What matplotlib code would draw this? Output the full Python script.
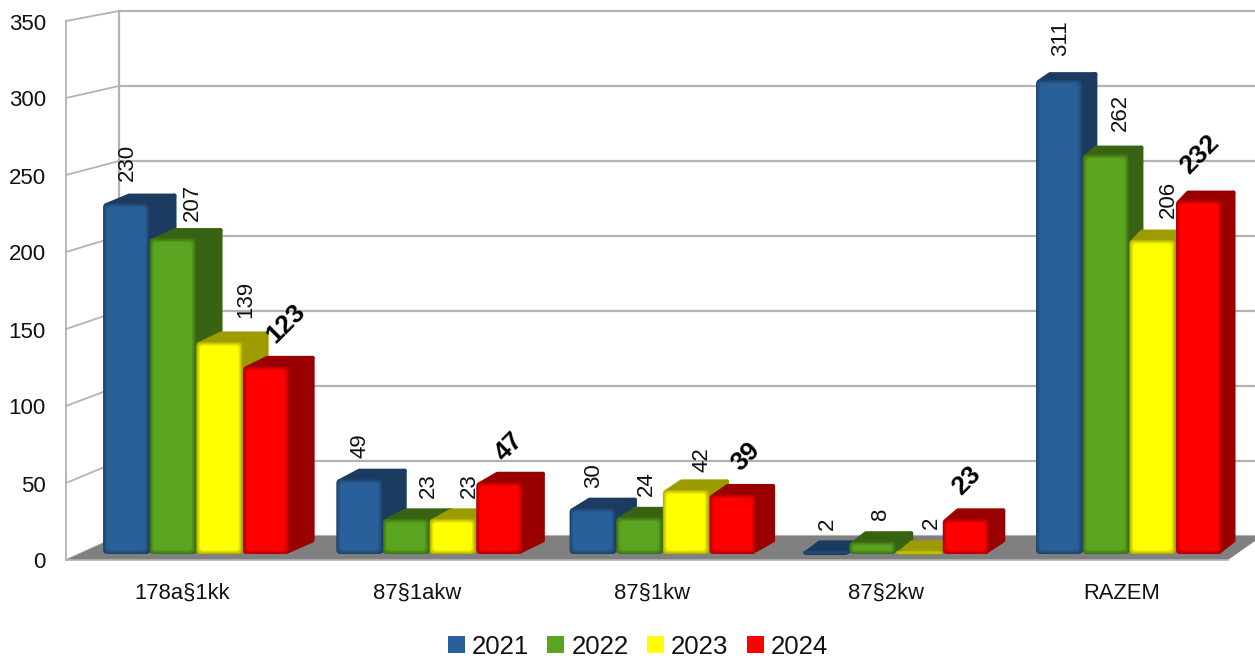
#! /usr/bin/python
# -*- coding: utf-8 -*-
import matplotlib
matplotlib.use("Agg")
import matplotlib.pyplot as plt
from matplotlib.colors import to_rgb
from matplotlib.patches import FancyBboxPatch, Patch, Polygon

plt.rcParams["font.family"] = ["Liberation Sans", "DejaVu Sans"]

categories = ["178a§1kk", "87§1akw", "87§1kw", "87§2kw", "RAZEM"]
years = ["2021", "2022", "2023", "2024"]
v2021 = [230, 49, 30, 2, 311]
v2022 = [207, 23, 24, 8, 262]
v2023 = [139, 23, 42, 2, 206]
v2024 = [123, 47, 39, 23, 232]
series = [v2021, v2022, v2023, v2024]
y_ticks = [0, 50, 100, 150, 200, 250, 300, 350]

front_colors = ["#2a6099", "#5aa51f", "#ffff00", "#ff0000"]
side_colors = ["#1b3b60", "#376312", "#9c9c00", "#990000"]
GRID = "#b3b3b3"

# label offsets from the bar top centre, in pixels (dx, dy), by year then category
label_off = [
    [(1, 38), (1, 31), (1, 30), (2, 25), (2, 39)],
    [(20, 33), (22, 31), (7, 31), (8, 25), (15, 40)],
    [(26, 40), (17, 31), (16, 28), (12, 26), (16, 38)],
    [(20, 43), (10, 36), (13, 38), (1, 38), (1, 46)],
]

W, H = 1255, 659
X0, X_STEP = 196.0, 233.25   # pixel of category 0, pixels per category
Y0, Y_STEP = 554.0, 1.525    # pixel of value 0, pixels per value (bar plane)


def dx_(px):
    return (px - X0) / X_STEP


def dy_(py):
    return (Y0 - py) / Y_STEP


def depth(px, py, top=False):
    # perspective shift of the back face of a bar
    shift = 0.0169 * (py + 335) - 1.5
    if top:
        shift = min(shift, 8.5)
    return 0.013 * (2220 - px) - 1.5, -shift


def poly(ax, pts, color, z):
    ax.add_patch(Polygon([(dx_(a), dy_(b)) for a, b in pts], closed=True, fc=color, ec=color,
                         lw=3.0, joinstyle="round", zorder=z))


def blend(a, b, t):
    a, b = to_rgb(a), to_rgb(b)
    return tuple(a[k] * (1 - t) + b[k] * t for k in range(3))


def draw_bar(ax, x, value, j, z):
    w = 0.197
    left, right = x - w / 2, x + w / 2
    lp, rp = X0 + left * X_STEP, X0 + right * X_STEP
    tp, bp = Y0 - value * Y_STEP, Y0
    ldx, ldy = depth(lp, tp, True)
    rdx, rdy = depth(rp, tp, True)
    bdx, bdy = depth(rp, bp)
    poly(ax, [(rp - 3, tp + 1), (rp + rdx, tp + rdy), (rp + bdx, bp + bdy), (rp - 3, bp - 2)], side_colors[j], z)
    poly(ax, [(lp + 3, tp + 2), (rp - 3, tp + 2), (rp + rdx, tp + rdy), (lp + ldx, tp + ldy)], side_colors[j], z)
    # front face, nested rounded boxes give the soft bevel
    for k in range(4):
        inset = k * 1.2
        hgt = bp - tp - 2 * inset
        if hgt <= 0:
            break
        r = min(4.0, hgt / 2.2)
        col = blend(side_colors[j], front_colors[j], (k + 1) / 4.0)
        ax.add_patch(FancyBboxPatch(
            (left + inset / X_STEP, inset / Y_STEP),
            w - 2 * inset / X_STEP, hgt / Y_STEP,
            boxstyle="round,pad=0,rounding_size=%f" % (r / X_STEP),
            mutation_aspect=X_STEP / Y_STEP, fc=col, ec="none", zorder=z + 0.1 * (k + 1)))


fig = plt.figure(figsize=(W / 100.0, H / 100.0), dpi=100)
ax = fig.add_axes([0, 0, 1, 1])
ax.set_xlim(dx_(0), dx_(W))
ax.set_ylim(dy_(H), dy_(0))
ax.axis("off")

# walls and floor
for v in y_ticks:
    yb = 536 - 1.5 * v
    yf = 560 - 1.54 * v
    ax.plot([dx_(119), dx_(W)], [dy_(yb), dy_(yb)], color=GRID, lw=1.6, zorder=1)
    ax.plot([dx_(66), dx_(119)], [dy_(yf), dy_(yb)], color=GRID, lw=1.3, zorder=1)
    ax.text(dx_(46), dy_(yf + 3), str(v), ha="right", va="center", fontsize=16, color="#111111")
ax.plot([dx_(66), dx_(66)], [dy_(560), dy_(21)], color=GRID, lw=1.3, zorder=1)
ax.plot([dx_(119), dx_(119)], [dy_(536), dy_(11)], color=GRID, lw=1.6, zorder=1)
ax.add_patch(Polygon([(dx_(66), dy_(560)), (dx_(1228), dy_(560)), (dx_(W), dy_(541)),
                      (dx_(W), dy_(536)), (dx_(119), dy_(536))], closed=True, fc="#808080", ec="none", zorder=2))
ax.plot([dx_(66), dx_(1228)], [dy_(560), dy_(560)], color=GRID, lw=1.2, zorder=2)

# bars, left to right so that each covers the side of the one before
z = 3
for i in range(len(categories)):
    for j in range(len(years)):
        x = i + (j - 1.5) * 0.2
        draw_bar(ax, x, series[j][i], j, z)
        z += 1

# value labels
for i in range(len(categories)):
    for j in range(len(years)):
        x = i + (j - 1.5) * 0.2
        off = label_off[j][i]
        tx = x + off[0] / X_STEP
        ty = series[j][i] + off[1] / Y_STEP
        if j == 3:
            ax.text(tx, ty, str(series[j][i]), rotation=45, ha="center", va="center",
                    fontsize=19, fontweight="bold", color="black", zorder=100)
        else:
            ax.text(tx, ty + 2.5 / Y_STEP, str(series[j][i]), rotation=90, ha="center", va="center",
                    fontsize=16, color="#111111", zorder=100)

# category labels
for i, c in enumerate(categories):
    ax.text(dx_(182 + 234.8 * i), dy_(593.5), c, ha="center", va="center", fontsize=15.8, color="#111111")

handles = [Patch(fc=front_colors[j], ec="none", label=years[j]) for j in range(4)]
leg = ax.legend(handles=handles, ncol=4, loc="center", bbox_to_anchor=(638.0 / W, 1 - 646.5 / H),
                frameon=False, fontsize=18.6, handlelength=0.66, handleheight=0.66,
                handletextpad=0.27, columnspacing=0.72, labelcolor="#111111",
                bbox_transform=fig.transFigure, borderpad=0, borderaxespad=0)

fig.savefig("out.png", dpi=100)
